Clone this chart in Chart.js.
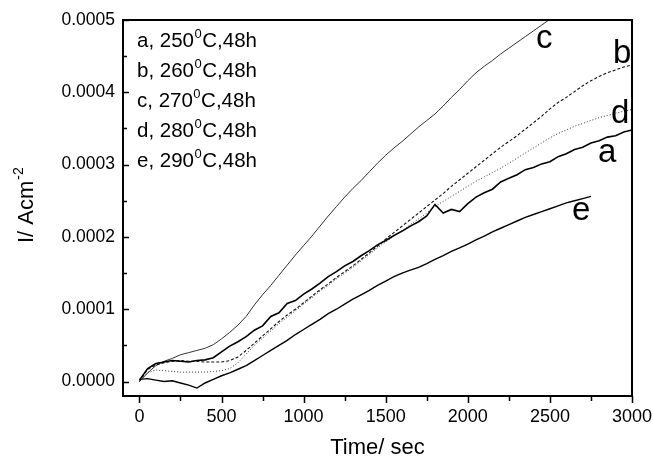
<!DOCTYPE html>
<html>
<head>
<meta charset="utf-8">
<script src="https://cdn.jsdelivr.net/npm/chart.js@4.4.0/dist/chart.umd.min.js"></script>
<style>
  html, body { margin: 0; padding: 0; background: #fff; }
  #wrap { width: 653px; height: 461px; }
</style>
</head>
<body>
<div id="wrap"><canvas id="chart"></canvas></div>
<script>
// time axis (s), one reading every 50 s
const timeSec = [0, 50, 100, 150, 200, 250, 300, 350, 400, 450, 500, 550, 600, 650, 700, 750, 800, 850, 900, 950,
  1000, 1050, 1100, 1150, 1200, 1250, 1300, 1350, 1400, 1450, 1500, 1550, 1600, 1650, 1700, 1750, 1800, 1850, 1900, 1950,
  2000, 2050, 2100, 2150, 2200, 2250, 2300, 2350, 2400, 2450, 2500, 2550, 2600, 2650, 2700, 2750, 2800, 2850, 2900, 2950, 3000];

// current density, A/cm2
const curveA = [2e-6, 1.8e-5, 2.5e-5, 2.7e-5, 2.9e-5, 2.8e-5, 2.7e-5, 2.9e-5, 3.0e-5, 3.3e-5, 4.1e-5, 4.9e-5, 5.5e-5, 6.2e-5, 7.1e-5, 7.7e-5, 9.0e-5, 9.5e-5, 1.08e-4, 1.12e-4,
  1.21e-4, 1.28e-4, 1.36e-4, 1.45e-4, 1.52e-4, 1.60e-4, 1.66e-4, 1.74e-4, 1.81e-4, 1.89e-4, 1.95e-4, 2.02e-4, 2.08e-4, 2.15e-4, 2.21e-4, 2.29e-4, 2.45e-4, 2.33e-4, 2.38e-4, 2.35e-4,
  2.46e-4, 2.55e-4, 2.61e-4, 2.66e-4, 2.76e-4, 2.81e-4, 2.86e-4, 2.93e-4, 2.96e-4, 3.01e-4, 3.04e-4, 3.11e-4, 3.15e-4, 3.21e-4, 3.24e-4, 3.30e-4, 3.33e-4, 3.38e-4, 3.40e-4, 3.45e-4, 3.48e-4];
const curveB = [0, 1.7e-5, 2.3e-5, 2.6e-5, 2.8e-5, 2.9e-5, 2.8e-5, 2.8e-5, 2.7e-5, 2.7e-5, 2.7e-5, 2.9e-5, 3.4e-5, 4.3e-5, 5.3e-5, 6.3e-5, 7.3e-5, 8.3e-5, 9.2e-5, 1.00e-4,
  1.09e-4, 1.18e-4, 1.27e-4, 1.35e-4, 1.44e-4, 1.52e-4, 1.60e-4, 1.69e-4, 1.78e-4, 1.87e-4, 1.97e-4, 2.06e-4, 2.15e-4, 2.24e-4, 2.33e-4, 2.42e-4, 2.51e-4, 2.60e-4, 2.70e-4, 2.79e-4,
  2.88e-4, 2.97e-4, 3.06e-4, 3.15e-4, 3.24e-4, 3.32e-4, 3.40e-4, 3.49e-4, 3.58e-4, 3.67e-4, 3.77e-4, 3.86e-4, 3.93e-4, 4.01e-4, 4.09e-4, 4.16e-4, 4.22e-4, 4.27e-4, 4.31e-4, 4.35e-4, 4.38e-4];
const curveC = [0, 1.2e-5, 2.2e-5, 2.8e-5, 3.2e-5, 3.7e-5, 4.0e-5, 4.3e-5, 4.6e-5, 5.1e-5, 5.9e-5, 6.8e-5, 7.8e-5, 9.0e-5, 1.06e-4, 1.20e-4, 1.33e-4, 1.47e-4, 1.61e-4, 1.75e-4,
  1.88e-4, 2.01e-4, 2.15e-4, 2.29e-4, 2.42e-4, 2.55e-4, 2.67e-4, 2.78e-4, 2.90e-4, 3.02e-4, 3.13e-4, 3.23e-4, 3.32e-4, 3.42e-4, 3.52e-4, 3.61e-4, 3.70e-4, 3.81e-4, 3.93e-4, 4.04e-4,
  4.16e-4, 4.27e-4, 4.36e-4, 4.44e-4, 4.53e-4, 4.61e-4, 4.69e-4, 4.77e-4, 4.85e-4, 4.93e-4, 5.01e-4, null, null, null, null, null, null, null, null, null, null];
const curveD = [0, 1.2e-5, 1.6e-5, 1.5e-5, 1.4e-5, 1.3e-5, 1.3e-5, 1.3e-5, 1.3e-5, 1.4e-5, 1.5e-5, 1.8e-5, 2.6e-5, 3.8e-5, 5.0e-5, 6.0e-5, 7.0e-5, 8.0e-5, 8.9e-5, 9.8e-5,
  1.07e-4, 1.16e-4, 1.25e-4, 1.33e-4, 1.42e-4, 1.50e-4, 1.58e-4, 1.67e-4, 1.76e-4, 1.85e-4, 1.93e-4, 2.01e-4, 2.09e-4, 2.17e-4, 2.25e-4, 2.33e-4, 2.42e-4, 2.49e-4, 2.56e-4, 2.63e-4,
  2.70e-4, 2.77e-4, 2.83e-4, 2.89e-4, 2.95e-4, 3.02e-4, 3.09e-4, 3.16e-4, 3.23e-4, 3.30e-4, 3.37e-4, 3.43e-4, 3.48e-4, 3.53e-4, 3.57e-4, 3.61e-4, 3.65e-4, 3.68e-4, 3.71e-4, 3.74e-4, 3.76e-4];
const curveE = [3e-6, 4e-6, 2e-6, 0, 1e-6, -2e-6, -5e-6, -9e-6, -2e-6, 3e-6, 8e-6, 1.2e-5, 1.7e-5, 2.2e-5, 2.9e-5, 3.6e-5, 4.3e-5, 5.0e-5, 5.7e-5, 6.5e-5,
  7.2e-5, 7.9e-5, 8.6e-5, 9.4e-5, 1.00e-4, 1.07e-4, 1.14e-4, 1.20e-4, 1.26e-4, 1.33e-4, 1.39e-4, 1.45e-4, 1.50e-4, 1.54e-4, 1.58e-4, 1.63e-4, 1.69e-4, 1.74e-4, 1.80e-4, 1.85e-4,
  1.90e-4, 1.96e-4, 2.01e-4, 2.07e-4, 2.12e-4, 2.17e-4, 2.22e-4, 2.27e-4, 2.31e-4, 2.35e-4, 2.39e-4, 2.43e-4, 2.47e-4, 2.50e-4, 2.53e-4, 2.56e-4, null, null, null, null, null];

const xTicks = [0, 500, 1000, 1500, 2000, 2500, 3000];
const yTicks = [0, 0.0001, 0.0002, 0.0003, 0.0004, 0.0005];
const legendLines = [['a, 250', 'C,48h'], ['b, 260', 'C,48h'], ['c, 270', 'C,48h'], ['d, 280', 'C,48h'], ['e, 290', 'C,48h']];

const FONT = '"Liberation Sans", Arial, sans-serif';

function pts(vals) {
  return timeSec.map((t, i) => ({ x: t, y: vals[i] })).filter(p => p.y !== null);
}

// frame, inward y ticks, outward x ticks, text annotations
const framePlugin = {
  id: 'framePlugin',
  afterDraw(chart) {
    const ctx = chart.ctx;
    const a = chart.chartArea;
    const xs = chart.scales.x, ys = chart.scales.y;
    ctx.save();
    ctx.strokeStyle = '#000';
    ctx.lineWidth = 2;
    ctx.strokeRect(a.left, a.top, a.right - a.left, a.bottom - a.top);

    ctx.lineWidth = 1.5;
    ctx.beginPath();
    for (let v = 0; v <= 3000; v += 250) {
      const px = Math.round(xs.getPixelForValue(v)) + 0.5;
      const len = (v % 500 === 0) ? 7 : 5;
      ctx.moveTo(px, a.bottom);
      ctx.lineTo(px, a.bottom + len);
    }
    for (let k = 0; k <= 10; k++) {
      const v = k * 0.00005;
      const py = Math.round(ys.getPixelForValue(v)) + 0.5;
      const len = (k % 2 === 0) ? 6 : 4;
      ctx.moveTo(a.left, py);
      ctx.lineTo(a.left + len, py);
    }
    ctx.stroke();

    ctx.fillStyle = '#000';
    ctx.textBaseline = 'alphabetic';
    ctx.textAlign = 'left';
    // legend block
    legendLines.forEach((parts, i) => {
      const y = 47 + i * 30;
      let x = 137;
      ctx.font = '20.5px ' + FONT;
      ctx.fillText(parts[0], x, y);
      x += ctx.measureText(parts[0]).width;
      ctx.font = '13px ' + FONT;
      ctx.fillText('0', x + 0.5, y - 9);
      x += ctx.measureText('0').width + 1;
      ctx.font = '20.5px ' + FONT;
      ctx.fillText(parts[1], x, y);
    });

    // curve labels
    ctx.font = '33px ' + FONT;
    ctx.fillText('c', 536, 48);
    ctx.fillText('b', 613, 63);
    ctx.fillText('d', 611, 123);
    ctx.fillText('a', 598, 162);
    ctx.fillText('e', 572, 220);

    // y title with superscript
    ctx.translate(33, 243);
    ctx.rotate(-Math.PI / 2);
    ctx.font = '22px ' + FONT;
    ctx.fillText('I/ Acm', 0, 0);
    const w = ctx.measureText('I/ Acm').width;
    ctx.font = '14px ' + FONT;
    ctx.fillText('-2', w + 1, -10);
    ctx.restore();
  }
};

const chart = new Chart(document.getElementById('chart').getContext('2d'), {
  type: 'line',
  data: {
    datasets: [
      { label: 'a', data: pts(curveA), borderColor: '#000', borderWidth: 1.6 },
      { label: 'b', data: pts(curveB), borderColor: '#111', borderWidth: 1.1, borderDash: [3, 2] },
      { label: 'c', data: pts(curveC), borderColor: '#333', borderWidth: 1 },
      { label: 'd', data: pts(curveD), borderColor: '#333', borderWidth: 1, borderDash: [1, 2] },
      { label: 'e', data: pts(curveE), borderColor: '#000', borderWidth: 1.4 }
    ].map(d => Object.assign(d, { pointRadius: 0, fill: false, tension: 0 }))
  },
  options: {
    responsive: true,
    maintainAspectRatio: false,
    animation: false,
    devicePixelRatio: 1,
    layout: { padding: { top: 20, right: 21, left: 0, bottom: 0 } },
    plugins: { legend: { display: false }, tooltip: { enabled: false } },
    scales: {
      x: {
        type: 'linear',
        min: -100,
        max: 3000,
        afterFit: s => { s.height = 65; s.paddingLeft = 0; s.paddingRight = 0; },
        afterBuildTicks: s => { s.ticks = xTicks.map(v => ({ value: v })); },
        grid: { display: false, drawTicks: false },
        border: { display: false },
        ticks: { padding: 10, color: '#000', font: { family: FONT, size: 18 }, maxRotation: 0, callback: v => String(v) },
        title: { display: true, text: 'Time/ sec', color: '#000', font: { family: FONT, size: 22 }, padding: { top: 0, bottom: 0 } }
      },
      y: {
        type: 'linear',
        min: -0.00002,
        max: 0.0005,
        afterFit: s => { s.width = 123; s.paddingTop = 0; s.paddingBottom = 0; },
        afterBuildTicks: s => { s.ticks = yTicks.map(v => ({ value: v })); },
        grid: { display: false, drawTicks: false },
        border: { display: false },
        ticks: { padding: 8, color: '#000', font: { family: FONT, size: 17.5 }, callback: v => Number(v).toFixed(4) }
      }
    }
  },
  plugins: [framePlugin]
});
</script>
</body>
</html>
